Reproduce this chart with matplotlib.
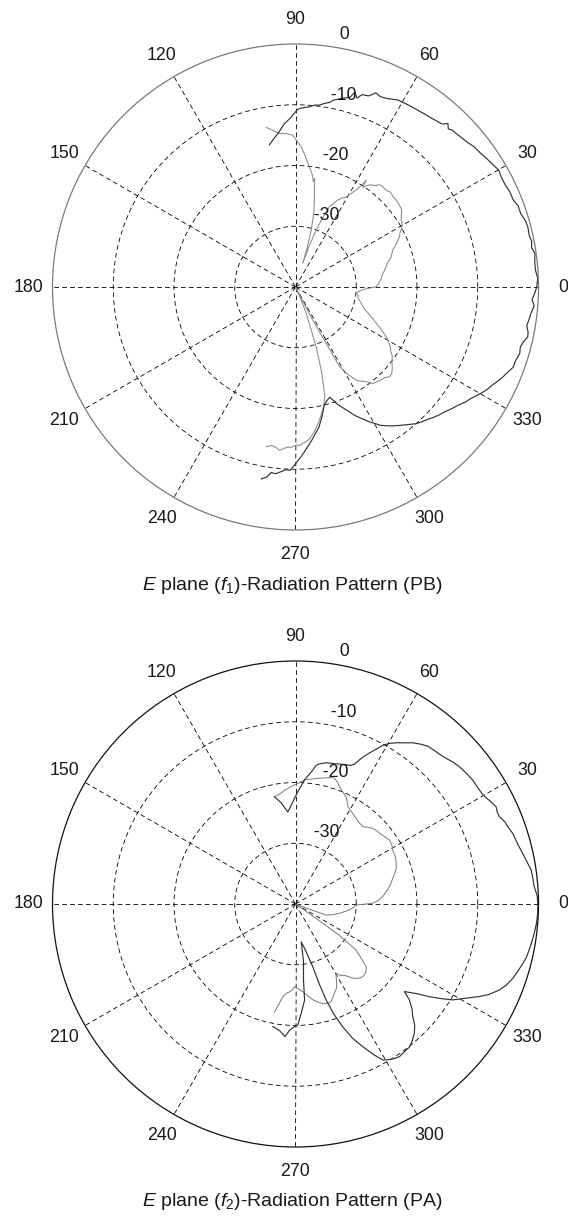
import numpy as np
import matplotlib
matplotlib.use("Agg")
import matplotlib.pyplot as plt

plt.rcParams['font.family'] = ['Liberation Sans', 'DejaVu Sans']
plt.rcParams['mathtext.fontset'] = 'custom'
plt.rcParams['mathtext.rm'] = 'Liberation Sans'
plt.rcParams['mathtext.it'] = 'Liberation Sans:italic'
plt.rcParams['lines.scale_dashes'] = False

# ---------------- chart data ----------------
angle_ticks = list(range(0, 360, 30))
angle_labels = [str(a) for a in angle_ticks]
ring_levels = [-30, -20, -10]
ring_label_levels = [-30, -20, -10, 0]
ring_labels = ['-30', '-20', '-10', '0']
r_min, r_max = -40, 0

captions = [r'$E$ plane ($f_1$)-Radiation Pattern (PB)',
            r'$E$ plane ($f_2$)-Radiation Pattern (PA)']

# Panel 1 (PB) - main (dark) trace, angle in degrees, level in dB
pb_main_theta = [100.4, 98, 96, 94, 91.8, 89.4, 88, 86, 84, 82.5, 81, 79.5, 78.5, 76, 74, 73, 72,
                 70.9, 69, 67.5, 66, 64, 61.3, 59, 57, 55, 53.7, 51, 48, 47, 46, 45, 42.5, 40,
                 38, 35.8, 34, 32, 29.9, 28, 26, 24, 21.8, 20, 18, 16, 14.5, 12.5, 11, 9.5, 8,
                 6, 4, 2, 0, -1.5, -3, -4.5, -6.4, -8, -9.5, -11, -12.1, -13.5, -14.9, -16.5,
                 -18.5, -20.2, -22, -23.5, -25, -26.5, -28, -29.5, -30.8, -32.5, -34, -36,
                 -37.9, -40, -41.5, -43.2, -45, -46.5, -48.6, -50, -51.5, -53.4, -55, -56.5,
                 -58.5, -60, -61.3, -63, -65.2, -67, -68.5, -70.5, -72.7, -74.5, -76.3, -78.5,
                 -80.5, -82, -84, -86, -88.2, -90, -91.7, -93, -94.5, -96, -97.5, -98.5, -100.1]
pb_main_db = [-16.2, -15.2, -14.3, -13.1, -12.2, -10.8, -10.5, -10.3, -9.9, -9.8, -9.4, -9.1,
              -8.6, -8.0, -7.5, -6.5, -7.3, -6.5, -6.3, -5.4, -5.7, -5.5, -4.9, -4.8, -4.7,
              -4.6, -4.5, -4.3, -3.9, -3.2, -3.8, -3.5, -3.3, -3.0, -2.6, -2.4, -2.1, -1.8,
              -1.4, -1.6, -1.6, -1.4, -1.4, -1.0, -1.0, -0.6, -0.5, -0.6, -0.4, -0.6, -0.2,
              -0.4, -0.4, -0.1, -0.3, -0.6, -1.0, -0.6, -1.0, -1.2, -1.4, -1.0, -0.9, -1.4,
              -1.7, -1.5, -1.8, -1.8, -2.4, -2.8, -3.3, -3.8, -4.2, -4.7, -5.2, -5.8, -6.2,
              -6.9, -7.4, -8.0, -8.3, -8.7, -9.2, -9.5, -10.0, -10.5, -11.0, -11.6, -12.1,
              -12.6, -13.3, -14.1, -14.7, -15.6, -16.7, -17.8, -18.6, -19.6, -21.0, -20.6,
              -20.0, -18.2, -16.6, -15.8, -14.6, -13.4, -12.0, -10.9, -9.8, -9.9, -9.5, -9.1,
              -9.2, -8.4, -7.9]

# Panel 1 (PB) - second (light) trace
pb_cross_theta = [100.4, 98, 96, 93.5, 91, 89.7, 87.5, 85.5, 83.4, 81.5, 80.5, 80, 78.8, 77.7,
                  76, 74.6, 73.5, 72.9, 71.5, 70, 68.5, 67, 64, 62, 60.7, 58, 57, 56.5, 56, 54,
                  52, 50.5, 49, 47, 45, 43, 40.8, 38.5, 36, 34, 32.4, 30.5, 29, 27.5, 25.7, 23,
                  20.8, 18.5, 17, 14.5, 12.6, 10, 8, 5.5, 3, 0.2, -1.5, -3, -4.5, -6, -8, -10,
                  -13, -16.3, -18, -20, -22, -24.2, -26.5, -28.7, -30.5, -32, -34, -35.6, -37.5,
                  -40, -42, -43.7, -45.5, -47, -49, -51, -52.5, -54, -55.5, -56.9, -59, -61,
                  -62.5, -64, -66, -67.9, -70.9, -73, -75, -77, -80, -82.5, -84.9, -87, -88.5,
                  -89.7, -91.5, -93, -95.6, -97, -98.5, -100.4]
pb_cross_db = [-13.3, -14.0, -14.6, -14.7, -15.0, -15.8, -17.0, -18.6, -20.1, -21.3, -22.4,
               -21.8, -24.0, -25.4, -27.6, -30.3, -33.2, -35.9, -32.8, -30.0, -27.6, -25.6,
               -24.0, -23.4, -23.0, -21.2, -20.0, -18.9, -20.2, -19.2, -18.8, -18.2, -18.1,
               -18.2, -17.9, -18.1, -18.1, -18.2, -18.4, -19.0, -19.4, -19.6, -20.0, -20.6,
               -21.0, -22.0, -22.9, -23.3, -23.6, -24.4, -24.7, -25.2, -25.6, -25.8, -26.2,
               -26.7, -28.4, -29.2, -29.7, -30.0, -29.5, -29.6, -29.0, -28.4, -28.0, -27.2,
               -26.4, -25.4, -24.2, -23.0, -22.2, -21.6, -21.1, -20.4, -20.0, -19.2, -18.7,
               -18.6, -19.1, -19.2, -19.4, -19.6, -20.2, -20.8, -21.2, -21.7, -23.2, -25.0,
               -34.0, -40.0, -38.0, -35.3, -29.6, -25.2, -21.3, -19.6, -17.6, -16.0, -14.8,
               -14.3, -13.9, -14.0, -13.6, -13.6, -13.0, -13.4, -13.6, -13.3]

# Panel 2 (PA) - main (dark) trace
pa_main_theta = [101.1, 98, 94.8, 91.5, 88.8, 85.8, 83, 81.5, 80.3, 77.7, 74, 72, 70, 68.5,
                 67.1, 65.4, 63.5, 62.5, 61.2, 59.5, 58, 56, 54, 52, 50, 47.5, 46, 44, 42,
                 39.9, 37.5, 35, 32.5, 30.2, 28, 25.9, 24.5, 23.2, 21.5, 20, 18, 15, 12.6, 10,
                 8.2, 6, 4.1, 2, 0, -2.2, -4.5, -7, -9, -11.1, -13, -14.6, -17, -18.9, -21,
                 -22.9, -25, -26.7, -29, -31.4, -33, -34.7, -36.5, -38.8, -40.1, -42, -43.9,
                 -45.5, -47.4, -49.5, -51.4, -53.5, -55.7, -57.5, -59.8, -60.8, -62.5, -64.7,
                 -67, -69, -70.8, -72.3, -73.5, -74.6, -77, -79, -81.4, -82, -84, -84.6, -87,
                 -88.9, -90.5, -92.7, -94.5, -97.2, -100.5]
pa_main_db = [-22.0, -23.2, -24.8, -23.2, -21.5, -19.5, -18.0, -16.9, -16.6, -16.2, -16.0,
              -15.8, -15.6, -15.5, -15.0, -13.4, -12.0, -11.3, -10.2, -9.3, -8.7, -8.0, -7.2,
              -6.6, -6.1, -5.9, -5.8, -5.5, -5.1, -4.8, -4.6, -4.4, -4.4, -4.3, -3.8, -3.3,
              -3.5, -3.5, -3.0, -2.8, -2.4, -2.1, -1.7, -1.2, -0.8, -0.7, -0.6, -0.2, -0.1,
              -0.1, -0.2, -0.4, -0.6, -0.8, -1.0, -1.3, -1.8, -2.2, -2.8, -3.6, -4.8, -6.1,
              -8.0, -9.7, -11.4, -13.2, -15.2, -17.0, -15.5, -14.2, -13.2, -12.0, -11.1,
              -10.4, -9.9, -9.8, -9.6, -9.8, -10.3, -10.6, -12.0, -14.0, -16.0, -18.4, -20.8,
              -23.4, -26.4, -29.3, -31.6, -32.8, -33.7, -30.6, -27.4, -24.1, -22.0, -20.1,
              -19.8, -19.2, -18.1, -19.0, -19.5]

# Panel 2 (PA) - second (light) trace
pa_cross_theta = [101.1, 98, 95.5, 93, 90.5, 88, 85.8, 82, 79, 77, 74.5, 72.8, 71, 69.4, 67,
                  64.7, 63, 61.7, 59, 55.9, 52, 48.9, 46.5, 44.4, 42, 40.1, 37, 34.2, 31.5, 29,
                  25.5, 22, 19.5, 17.2, 14, 10.4, 7.5, 4.8, 2.5, 0.5, -0.9, -4.3, -8, -12, -16,
                  -19.7, -20.5, -24, -35, -35.5, -37.2, -39.5, -41.6, -44.5, -47.2, -50, -52.4,
                  -55, -58.2, -59.6, -60.8, -62, -64, -66.4, -69.9, -72, -74.6, -77, -79.8,
                  -82.5, -85.2, -88, -90.7, -92, -93.9, -96, -97.8, -99.5, -101]
pa_cross_db = [-22.0, -21.7, -21.2, -20.8, -20.4, -20.0, -19.5, -19.2, -18.9, -18.7, -18.4,
               -18.3, -18.8, -19.4, -20.0, -20.5, -21.2, -21.8, -22.2, -22.6, -23.0, -23.1,
               -22.6, -22.2, -22.0, -21.9, -21.6, -21.3, -21.4, -21.7, -21.8, -22.1, -22.4,
               -22.9, -23.6, -24.3, -25.0, -25.6, -26.4, -27.3, -30.0, -30.6, -31.6, -32.6,
               -33.6, -34.6, -37.0, -40.0, -35.6, -31.2, -27.5, -26.0, -24.4, -23.8, -23.7,
               -24.0, -24.6, -25.6, -26.2, -26.8, -26.3, -25.6, -24.6, -24.0, -22.9, -22.8,
               -23.0, -23.4, -24.0, -24.8, -25.5, -26.0, -26.4, -25.9, -25.5, -25.2, -24.6,
               -23.2, -21.9]

# ---------------- layout / style ----------------
W, H = 568, 1218
cx, R = 295.5, 243
fs = 12.8
fs_cap = 14.0
dash = (0, (3.4, 2.3))

panels = [
    dict(cy=287, cap_y=585, rim='#7a7a7a', caption=captions[0],
         main=(pb_main_theta, pb_main_db), cross=(pb_cross_theta, pb_cross_db),
         main_c='#333333', cross_c='#8a8a8a'),
    dict(cy=904, cap_y=1202, rim='#111111', caption=captions[1],
         main=(pa_main_theta, pa_main_db), cross=(pa_cross_theta, pa_cross_db),
         main_c='#333333', cross_c='#808080'),
]

fig = plt.figure(figsize=(W / 100, H / 100), dpi=100)
fig.patch.set_facecolor('white')

for p in panels:
    ax = fig.add_axes([(cx - R) / W, (H - p['cy'] - R) / H, 2 * R / W, 2 * R / H],
                      projection='polar')
    ax.set_rlim(r_min, r_max)
    ax.set_xticks(np.deg2rad(angle_ticks))
    ax.set_xticklabels([])
    ax.set_yticks(ring_levels)
    ax.set_yticklabels([])
    ax.tick_params(length=0)
    ax.grid(True, color='black', linewidth=0.6, linestyle=dash)
    ax.spines['polar'].set_color(p['rim'])
    ax.spines['polar'].set_linewidth(0.9)

    # traces
    th, db = p['cross']
    ax.plot(np.deg2rad(th), np.clip(db, r_min, r_max), color=p['cross_c'], lw=0.75)
    th, db = p['main']
    ax.plot(np.deg2rad(th), np.clip(db, r_min, r_max), color=p['main_c'], lw=0.85)

    # angle labels at 1.1 * rmax
    rt = r_max + 0.1 * (r_max - r_min)
    for a, lab in zip(angle_ticks, angle_labels):
        ax.text(np.deg2rad(a), rt, lab, ha='center', va='center', fontsize=fs,
                color='#1a1a1a')
    # ring labels along 82 degrees
    for lvl, lab in zip(ring_label_levels, ring_labels):
        ax.text(np.deg2rad(82), lvl + 0.5, '  ' + lab, ha='left', va='bottom',
                fontsize=fs, color='#1a1a1a')

    fig.text(292.5 / W, 1 - p['cap_y'] / H, p['caption'], ha='center', va='center',
             fontsize=fs_cap, color='#1a1a1a')

fig.savefig('out.png', dpi=100, facecolor='white')
